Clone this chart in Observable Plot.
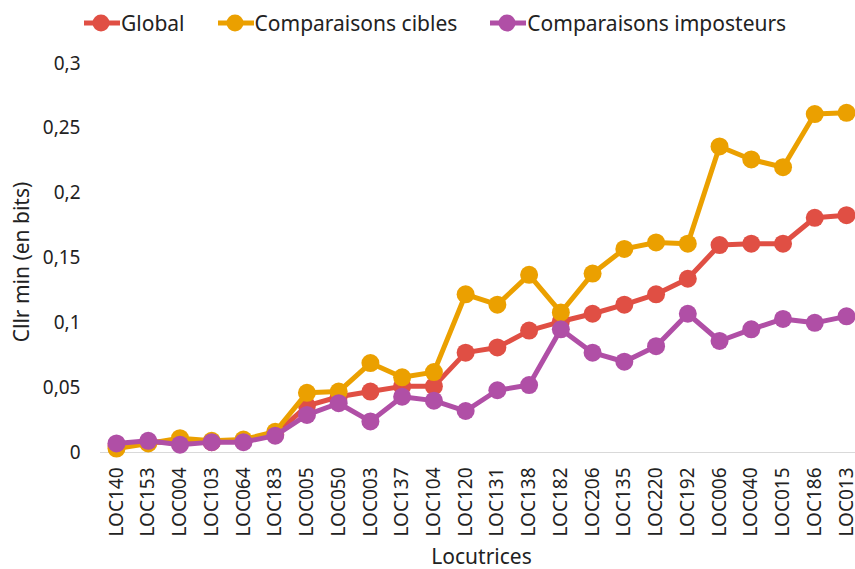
<!DOCTYPE html>
<html>
<head>
<meta charset="utf-8">
<script src="https://cdn.jsdelivr.net/npm/d3@7"></script>
<script src="https://cdn.jsdelivr.net/npm/@observablehq/plot@0.6"></script>
<style>
  html, body { margin: 0; background: #fff; font-family: "Noto Sans", sans-serif; overflow: hidden; }
  #legend { height: 44px; display: flex; align-items: center; padding-left: 84px; padding-top: 2px; font-size: 21px; color: #222; box-sizing: border-box; }
  .item { display: flex; align-items: center; margin-right: 33px; }
  .item svg { display: block; margin-right: 1px; }
  #chart svg { display: block; }
</style>
</head>
<body>
<div id="legend"></div>
<div id="chart"></div>
<script>
const categories = ["LOC140","LOC153","LOC004","LOC103","LOC064","LOC183","LOC005","LOC050","LOC003","LOC137","LOC104","LOC120","LOC131","LOC138","LOC182","LOC206","LOC135","LOC220","LOC192","LOC006","LOC040","LOC015","LOC186","LOC013"];
const seriesNames = ["Global", "Comparaisons cibles", "Comparaisons imposteurs"];
const globalValues = [0.005,0.008,0.008,0.008,0.009,0.014,0.036,0.043,0.047,0.051,0.051,0.077,0.081,0.094,0.101,0.107,0.114,0.122,0.134,0.160,0.161,0.161,0.181,0.183];
const ciblesValues = [0.003,0.007,0.011,0.009,0.010,0.016,0.046,0.047,0.069,0.058,0.062,0.122,0.114,0.137,0.108,0.138,0.157,0.162,0.161,0.236,0.226,0.220,0.261,0.262];
const imposteursValues = [0.007,0.009,0.006,0.008,0.008,0.013,0.029,0.038,0.024,0.043,0.040,0.032,0.048,0.052,0.095,0.077,0.070,0.082,0.107,0.086,0.095,0.103,0.100,0.105];
const yTicks = [0, 0.05, 0.1, 0.15, 0.2, 0.25, 0.3];
const colors = ["#E04F44", "#EBA000", "#B04FA6"];

const allValues = [globalValues, ciblesValues, imposteursValues];
const data = [];
seriesNames.forEach((s, i) => categories.forEach((c, j) => data.push({series: s, cat: c, value: allValues[i][j]})));

const legend = document.getElementById("legend");
seriesNames.forEach((s, i) => {
  const item = document.createElement("div");
  item.className = "item";
  item.innerHTML = `<svg width="36" height="20"><line x1="0" x2="36" y1="10" y2="10" stroke="${colors[i]}" stroke-width="5" stroke-linecap="round"/><circle cx="17" cy="10" r="8.5" fill="${colors[i]}"/></svg><span>${s}</span>`;
  legend.appendChild(item);
});

const fmt = d => String(d).replace(".", ",");

const marks = [
  Plot.ruleY([0], {stroke: "#d9d9d9", strokeWidth: 1, insetLeft: -16, insetRight: -9}),
  Plot.axisY(yTicks, {tickSize: 0, tickPadding: 36, tickFormat: fmt, fontSize: 19, label: null, fill: "#222"}),
  Plot.axisX(categories, {tickSize: 0, tickPadding: 15, tickRotate: -90, fontSize: 19, label: null, fill: "#222"}),
  Plot.text(["Cllr min (en bits)"], {frameAnchor: "left", textAnchor: "middle", lineAnchor: "middle", dx: -94, dy: 4, rotate: -90, fontSize: 21, fill: "#222"}),
  Plot.text(["Locutrices"], {frameAnchor: "bottom", textAnchor: "middle", lineAnchor: "middle", dy: 105, fontSize: 21, fill: "#222"})
];
seriesNames.forEach((s, i) => {
  const d = data.filter(r => r.series === s);
  marks.push(Plot.lineY(d, {x: "cat", y: "value", stroke: colors[i], strokeWidth: 5}));
  marks.push(Plot.dot(d, {x: "cat", y: "value", r: 9, fill: colors[i], stroke: "none"}));
});

const chart = Plot.plot({
  width: 855,
  height: 525,
  marginLeft: 116,
  marginRight: 9,
  marginTop: 19,
  marginBottom: 117,
  style: {fontFamily: "Noto Sans, sans-serif", background: "#fff", overflow: "visible"},
  x: {type: "point", domain: categories, padding: 0, round: false},
  y: {domain: [0, 0.3]},
  marks
});
document.getElementById("chart").appendChild(chart);
</script>
</body>
</html>
